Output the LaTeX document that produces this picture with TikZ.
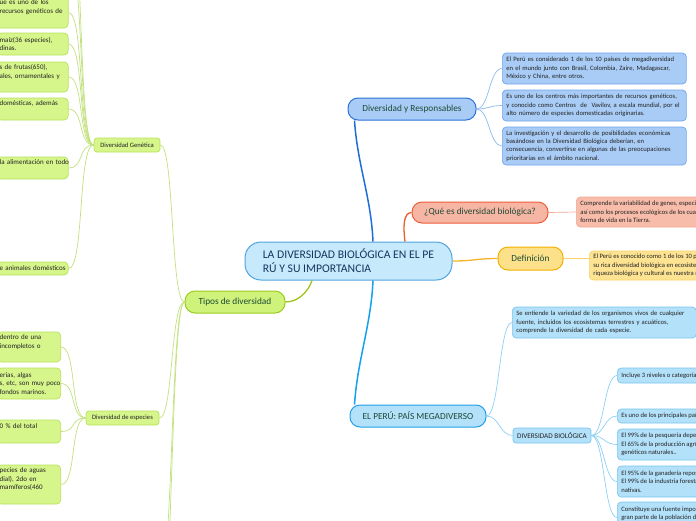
\documentclass[tikz,border=0pt]{standalone}
\usepackage{fontspec}
\setmainfont{Carlito}
\definecolor{cFill}{HTML}{C6E9FC}
\definecolor{cBd}{HTML}{4FA3E0}
\definecolor{cTxt}{HTML}{17365D}
\definecolor{brTxt}{HTML}{1D4A36}
\definecolor{lfTxt}{HTML}{222222}
\definecolor{dyrFill}{HTML}{A9CCF6}
\definecolor{dyrBd}{HTML}{2A72D8}
\definecolor{dyrLBd}{HTML}{6EA5EA}
\definecolor{dyrLine}{HTML}{1F6ED8}
\definecolor{dyrSub}{HTML}{8DB9EE}
\definecolor{queFill}{HTML}{F7B6A4}
\definecolor{queBd}{HTML}{EF5B3B}
\definecolor{queLFill}{HTML}{F8BDAA}
\definecolor{queLBd}{HTML}{F3A893}
\definecolor{queLine}{HTML}{EF5A2E}
\definecolor{defFill}{HTML}{FDE18A}
\definecolor{defBd}{HTML}{F2B000}
\definecolor{defLFill}{HTML}{FDE392}
\definecolor{defLBd}{HTML}{FAD26A}
\definecolor{defLine}{HTML}{F4B425}
\definecolor{perFill}{HTML}{B3E1FA}
\definecolor{perBd}{HTML}{22A0EA}
\definecolor{perLBd}{HTML}{78C6F1}
\definecolor{perLine}{HTML}{14A0EE}
\definecolor{perSub}{HTML}{8DD0F3}
\definecolor{tipFill}{HTML}{CFF27A}
\definecolor{tipBd}{HTML}{9BCC1F}
\definecolor{tipLFill}{HTML}{D6F68C}
\definecolor{tipLBd}{HTML}{B8E25A}
\definecolor{tipLine}{HTML}{9DC31C}
\definecolor{tipSub}{HTML}{C2E07E}
\tikzset{
  centralbox/.style={draw=cBd, fill=cFill, line width=1pt, rounded corners=16pt,
    minimum width=207pt, minimum height=38pt, inner sep=0pt, text=cTxt,
    font=\fontsize{11.7}{14}\selectfont, align=left},
  branchbox/.style={line width=1pt, rounded corners=10pt, minimum height=22pt,
    inner sep=0pt, text=brTxt, font=\fontsize{9.3}{11}\selectfont},
  subbox/.style={rounded corners=3pt, line width=0.7pt, minimum height=14pt,
    inner sep=0pt, text=lfTxt, font=\fontsize{6.6}{8}\selectfont},
  leafbox/.style={rounded corners=4pt, line width=0.7pt, text=lfTxt,
    font=\fontsize{6.6}{8.4}\selectfont, inner xsep=4pt, inner ysep=0pt,
    align=left, anchor=west},
  lleaf/.style={rounded corners=4pt, line width=0.7pt, text=lfTxt,
    font=\fontsize{7}{8.7}\selectfont, inner xsep=2.5pt, inner ysep=0pt,
    align=left, anchor=east, fill=tipLFill, draw=tipLBd},
  gleaf/.style={lleaf, text width=66pt},
  eleaf/.style={lleaf, text width=58.5pt},
  subline/.style={line width=0.7pt},
}
\begin{document}
\begin{tikzpicture}[x=1pt,y=-1pt]
\useasboundingbox (0,0) rectangle (696,520);
\clip (0,0) rectangle (696,520);

% central
\node[centralbox] (central) at (348.5,261) {LA DIVERSIDAD BIOLÓGICA EN EL PE\\RÚ Y SU IMPORTANCIA};

% branches
\node[branchbox, fill=dyrFill, draw=dyrBd, minimum width=128pt] (dyr) at (412,109) {Diversidad y Responsables};
\node[branchbox, fill=queFill, draw=queBd, minimum width=136pt, minimum height=21pt] (que) at (480,212.5) {¿Qué es diversidad biológica?};
\node[branchbox, fill=defFill, draw=defBd, minimum width=65pt, minimum height=23pt] (def) at (530.5,258.5) {Definición};
\node[branchbox, fill=perFill, draw=perBd, minimum width=136pt] (per) at (418,416) {EL PERÚ: PAÍS MEGADIVERSO};
\node[branchbox, fill=tipFill, draw=tipBd, minimum width=100pt] (tip) at (235,302) {Tipos de diversidad};

% sub nodes
\node[subbox, fill=tipLFill, draw=tipLBd, minimum width=66pt] (dg) at (127,145) {Diversidad Genética};
\node[subbox, fill=tipLFill, draw=tipLBd, minimum width=73pt] (de) at (122.5,418) {Diversidad de especies};
\node[subbox, fill=perFill, draw=perLBd, minimum width=78pt, minimum height=15pt, font=\fontsize{7.2}{8}\selectfont] (db) at (552,435.5) {DIVERSIDAD BIOLÓGICA};

% right leaves
\node[leafbox, fill=dyrFill, draw=dyrLBd, text width=176pt, minimum height=31pt] (d1) at (502,68.5)
  {\mbox{El Perú es considerado 1 de los 10 países de megadiversidad}\\\mbox{en el mundo junto con Brasil, Colombia, Zaire, Madagascar,}\\\mbox{México y China, entre otros.}};
\node[leafbox, fill=dyrFill, draw=dyrLBd, text width=176pt, minimum height=31pt] (d2) at (502,105.5)
  {\mbox{Es uno de los centros más importantes de recursos genéticos,}\\\mbox{y conocido como Centros\ \ de\ \ Vavilov, a escala mundial, por el}\\\mbox{alto número de especies domesticadas originarias.}};
\node[leafbox, fill=dyrFill, draw=dyrLBd, text width=176pt, minimum height=38pt] (d3) at (502,146)
  {\mbox{La investigación y el desarrollo de posibilidades económicas}\\\mbox{basándose en la Diversidad Biológica deberían, en}\\\mbox{consecuencia, convertirse en algunas de las preocupaciones}\\\mbox{prioritarias en el ámbito nacional.}};
\node[leafbox, fill=queLFill, draw=queLBd, minimum height=30pt] (ql) at (576,212)
  {Comprende la variabilidad de genes, especies y ecosistemas,\\así como los procesos ecológicos de los cuales dependen toda\\forma de vida en la Tierra.};
\node[leafbox, fill=defLFill, draw=defLBd, minimum height=29pt] (dl) at (589,265.5)
  {El Perú es conocido como 1 de los 10 países megadiversos por\\su rica diversidad biológica en ecosistemas, especies y genes;\\riqueza biológica y cultural es nuestra mayor fortaleza.};
\node[leafbox, fill=perFill, draw=perLBd, text width=176pt, minimum height=31pt] (se) at (512,322.5)
  {\mbox{Se entiende la variedad de los organismos vivos de cualquier}\\\mbox{fuente, incluidos los ecosistemas terrestres y acuáticos,}\\\mbox{comprende la diversidad de cada especie.}};
\node[leafbox, fill=perFill, draw=perLBd, minimum height=15pt] (b1) at (617,375.5)
  {Incluye 3 niveles o categorías: genes, especies y ecosistemas.};
\node[leafbox, fill=perFill, draw=perLBd, minimum height=14pt] (b2) at (617,416)
  {Es uno de los principales países megadiversos del planeta.};
\node[leafbox, fill=perFill, draw=perLBd, minimum height=31pt] (b3) at (617,444.5)
  {El 99\% de la pesquería depende de recursos hidrobiológicos.\\El 65\% de la producción agrícola depende de recursos\\genéticos naturales..};
\node[leafbox, fill=perFill, draw=perLBd, minimum height=31pt] (b4) at (617,481.5)
  {El 95\% de la ganadería reposa en pastos naturales.\\El 99\% de la industria forestal depende de especies\\nativas.};
\node[leafbox, fill=perFill, draw=perLBd, minimum height=31pt] (b5) at (617,517.5)
  {Constituye una fuente importante de alimento para\\gran parte de la población del país.\\~};

% left leaves (Diversidad Genetica), cut by the left edge
\node[gleaf, minimum height=31pt] (g1) at (68.5,12.5) {\mbox{ue es uno de los}\\\mbox{recursos genéticos de}\\\strut};
\node[gleaf, minimum height=22pt] (g2) at (68.5,44) {\mbox{maíz(36 especies),}\\\mbox{dinas.}};
\node[gleaf, minimum height=30pt] (g3) at (68.5,77) {\mbox{s de frutas(650),}\\\mbox{ales, ornamentales y}\\\strut};
\node[gleaf, minimum height=22pt] (g4) at (68.5,109) {\mbox{domésticas, además}\\\strut};
\node[gleaf, minimum height=22pt] (g5) at (68.5,168) {\mbox{la alimentación en todo}\\\strut};
\node[gleaf, minimum height=13pt] (g6) at (68.5,268.5) {\mbox{e animales domésticos}};
% left leaves (Diversidad de especies)
\node[eleaf, minimum height=30pt] (e1) at (61,347) {\mbox{dentro de una}\\\mbox{incompletos o}\\\strut};
\node[eleaf, minimum height=31pt] (e2) at (61,383.5) {\mbox{erias, algas}\\\mbox{s, etc, son muy poco}\\\mbox{fondos marinos.}};
\node[eleaf, minimum height=23pt] (e3) at (61,431.5) {\mbox{0 \% del total}\\\strut};
\node[eleaf, minimum height=39pt] (e4) at (61,484.5) {\mbox{pecies de aguas}\\\mbox{dial), 2do en}\\\mbox{mamíferos(460}\\\strut};

% off-canvas ends
\coordinate (gx1) at (68.5,-40);
\coordinate (gx2) at (68.5,-85);
\coordinate (tx1) at (159,585);
\coordinate (tx2) at (159,640);

% main connectors
\draw[dyrLine, line width=1.5pt] ([xshift=24.5pt]central.north) .. controls +(-2,-45) and +(3,45) .. ([xshift=7pt]dyr.south west);
\draw[perLine, line width=1.5pt] ([xshift=24.5pt]central.south) .. controls +(-2,45) and +(3,-45) .. ([xshift=5pt]per.north west);
\draw[queLine, line width=1.3pt] ([xshift=56.5pt]central.north) .. controls +(-2,-15) and +(-8,0) .. (que.west);
\draw[defLine, line width=1.3pt] (central.east) .. controls +(22,0) and +(-22,0) .. (def.west);
\draw[tipLine, line width=1.3pt] ([xshift=-36.5pt]central.south) .. controls +(-4,12) and +(12,0) .. (tip.east);

% sub connectors
\foreach \n in {d1,d2,d3}
  \draw[dyrSub, subline] (dyr.east) .. controls +(13,0) and +(-13,0) .. (\n.west);
\draw[queLBd, subline] (que.east) .. controls +(14,0) and +(-14,0) .. (ql.west);
\draw[defLBd, subline] (def.east) .. controls +(13,0) and +(-13,0) .. ([yshift=7pt]dl.west);
\draw[perSub, subline] (per.east) .. controls +(13,0) and +(-13,0) .. (se.west);
\draw[perSub, subline] (per.east) .. controls +(13,0) and +(-13,0) .. (db.west);
\foreach \n in {b1,b2,b3,b4,b5}
  \draw[perSub, subline] (db.east) .. controls +(13,0) and +(-13,0) .. (\n.west);
\foreach \n in {dg,de,tx1,tx2}
  \draw[tipSub, subline] (tip.west) .. controls +(-14,0) and +(14,0) .. (\n.east);
\foreach \n in {g1,g2,g3,g4,g5,g6}
  \draw[tipSub, subline] (dg.west) .. controls +(-16,0) and +(16,0) .. (\n.east);
\foreach \n in {gx1,gx2}
  \draw[tipSub, subline] (dg.west) .. controls +(-16,0) and +(16,0) .. (\n);
\foreach \n in {e1,e2,e3,e4}
  \draw[tipSub, subline] (de.west) .. controls +(-16,0) and +(16,0) .. (\n.east);
\end{tikzpicture}
\end{document}
